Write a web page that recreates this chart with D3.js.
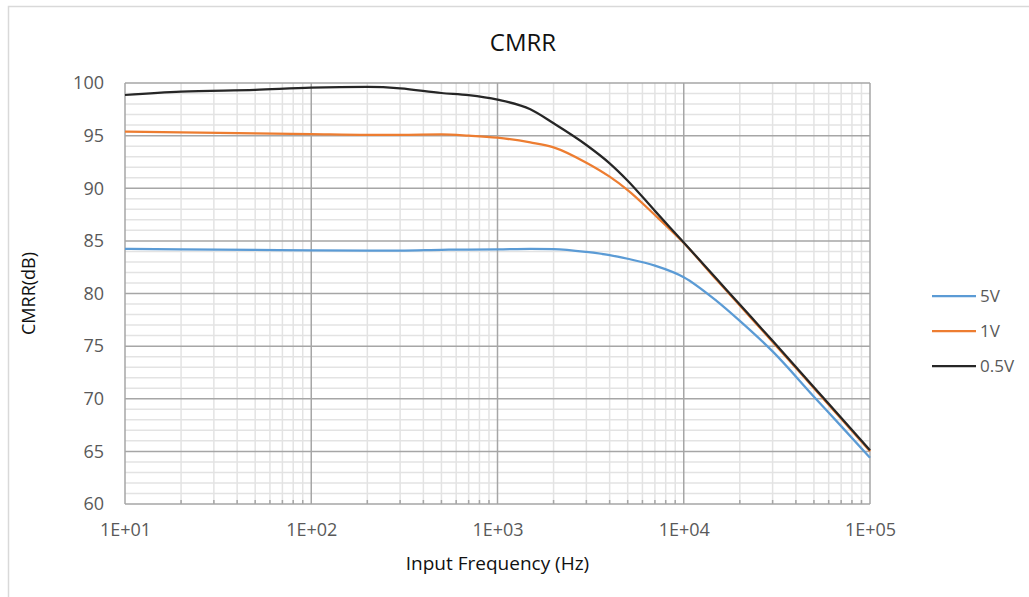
<!DOCTYPE html>
<html lang="en">
<head>
  <meta charset="UTF-8">
  <title>CMRR</title>
  <style>
    body {
      margin: 0;
      background: #fff;
      font-family: "Open Sans", "Noto Sans", Arial, sans-serif;
    }
    svg {
      display: block;
    }
  </style>
  <script src="https://d3js.org/d3.v7.min.js"></script>
</head>
<body>

<svg width="1029" height="597"></svg>

<script>
  // frequency points (Hz) shared by all three curves
  const freqs = [10, 20, 50, 100, 200, 300, 500, 700, 1000, 1500, 2000, 3000, 4000,
                 5000, 7000, 10000, 15000, 20000, 30000, 50000, 70000, 100000];

  // CMRR (dB)
  const cmrr5V = [84.25, 84.2, 84.15, 84.1, 84.08, 84.08, 84.15, 84.18, 84.2, 84.25, 84.22, 83.95, 83.65,
                  83.3, 82.65, 81.55, 79.3, 77.4, 74.5, 70.2, 67.4, 64.4];
  const cmrr1V = [95.38, 95.3, 95.22, 95.15, 95.08, 95.08, 95.12, 95.0, 94.8, 94.35, 93.89, 92.43, 91.1,
                  89.83, 87.46, 84.8, 81.3, 78.85, 75.4, 71.0, 68.1, 65.0];
  const cmrr05V = [98.86, 99.17, 99.35, 99.55, 99.62, 99.5, 99.05, 98.85, 98.42, 97.5, 96.17, 94.11, 92.37,
                   90.72, 87.85, 84.85, 81.4, 78.95, 75.5, 71.1, 68.2, 65.1];

  const seriesNames = ["5V", "1V", "0.5V"];
  const seriesValues = [cmrr5V, cmrr1V, cmrr05V];
  const seriesColors = ["#5b9bd5", "#ed7d31", "#262626"];

  const yTicks = [60, 65, 70, 75, 80, 85, 90, 95, 100];
  const xTicks = [1e1, 1e2, 1e3, 1e4, 1e5];
  const xTickLabels = ["1E+01", "1E+02", "1E+03", "1E+04", "1E+05"];

  const svg = d3.select("svg"),
        width = +svg.attr("width"),
        height = +svg.attr("height");

  const plot = {left: 125, top: 83, right: 870, bottom: 504};

  // chart frame (light border, runs past the right/bottom edges)
  svg.append("rect")
    .attr("x", 8.5).attr("y", 6.5)
    .attr("width", width + 10).attr("height", height + 10)
    .attr("fill", "#fff")
    .attr("stroke", "#d9d9d9")
    .attr("stroke-width", 1.5);

  const x = d3.scaleLog()
    .domain([10, 100000])
    .range([plot.left, plot.right]);

  const y = d3.scaleLinear()
    .domain([60, 100])
    .range([plot.bottom, plot.top]);

  // minor grid
  const minorX = [];
  for (let dec = 10; dec < 100000; dec *= 10) {
    for (let k = 2; k <= 9; k++) minorX.push(dec * k);
  }
  const minorY = d3.range(60, 101, 1).filter(v => v % 5 !== 0);

  const grid = svg.append("g");

  grid.selectAll(".minor-x")
    .data(minorX)
    .enter().append("line")
      .attr("x1", d => x(d)).attr("x2", d => x(d))
      .attr("y1", plot.top).attr("y2", plot.bottom)
      .attr("stroke", "#e3e3e3")
      .attr("stroke-width", 1.5);

  grid.selectAll(".minor-y")
    .data(minorY)
    .enter().append("line")
      .attr("x1", plot.left).attr("x2", plot.right)
      .attr("y1", d => y(d)).attr("y2", d => y(d))
      .attr("stroke", "#e3e3e3")
      .attr("stroke-width", 1.5);

  // major grid
  grid.selectAll(".major-x")
    .data(xTicks)
    .enter().append("line")
      .attr("x1", d => x(d)).attr("x2", d => x(d))
      .attr("y1", plot.top).attr("y2", plot.bottom)
      .attr("stroke", "#a6a6a6")
      .attr("stroke-width", 1.5);

  grid.selectAll(".major-y")
    .data(yTicks)
    .enter().append("line")
      .attr("x1", plot.left).attr("x2", plot.right)
      .attr("y1", d => y(d)).attr("y2", d => y(d))
      .attr("stroke", "#a6a6a6")
      .attr("stroke-width", 1.5);

  // minor tick marks on the x axis (inside)
  grid.selectAll(".minor-tick")
    .data(minorX)
    .enter().append("line")
      .attr("x1", d => x(d)).attr("x2", d => x(d))
      .attr("y1", plot.bottom - 4).attr("y2", plot.bottom)
      .attr("stroke", "#a6a6a6")
      .attr("stroke-width", 1.5);

  // axes: labels only, lines come from the grid
  const xAxis = d3.axisBottom(x)
    .tickValues(xTicks)
    .tickFormat((d, i) => xTickLabels[i])
    .tickSize(0)
    .tickPadding(19);

  const yAxis = d3.axisLeft(y)
    .tickValues(yTicks)
    .tickSize(0)
    .tickPadding(21);

  svg.append("g")
    .attr("transform", `translate(0,${plot.bottom})`)
    .call(xAxis)
    .call(g => g.select(".domain").remove())
    .selectAll("text")
      .attr("fill", "#595959")
      .style("font-size", "18px")
      .style("font-family", "'Open Sans', sans-serif");

  svg.append("g")
    .attr("transform", `translate(${plot.left},0)`)
    .call(yAxis)
    .call(g => g.select(".domain").remove())
    .selectAll("text")
      .attr("fill", "#595959")
      .style("font-size", "18px")
      .style("font-family", "'Open Sans', sans-serif");

  // curves
  const line = d3.line()
    .x(d => x(d[0]))
    .y(d => y(d[1]))
    .curve(d3.curveMonotoneX);

  seriesValues.forEach((vals, i) => {
    svg.append("path")
      .datum(freqs.map((f, j) => [f, vals[j]]))
      .attr("fill", "none")
      .attr("stroke", seriesColors[i])
      .attr("stroke-width", 2.25)
      .attr("stroke-linejoin", "round")
      .attr("d", line);
  });

  // title
  svg.append("text")
    .attr("x", 523).attr("y", 51)
    .attr("text-anchor", "middle")
    .style("font-size", "24px")
    .attr("fill", "#111")
    .text("CMRR");

  // axis titles
  svg.append("text")
    .attr("x", (plot.left + plot.right) / 2).attr("y", 570)
    .attr("text-anchor", "middle")
    .style("font-size", "19px")
    .attr("fill", "#111")
    .text("Input Frequency (Hz)");

  svg.append("text")
    .attr("transform", `translate(35,${(plot.top + plot.bottom) / 2}) rotate(-90)`)
    .attr("text-anchor", "middle")
    .style("font-size", "18px")
    .attr("fill", "#111")
    .text("CMRR(dB)");

  // legend
  const legend = svg.append("g")
    .attr("transform", "translate(932,296)");

  const legendItem = legend.selectAll("g")
    .data(seriesNames)
    .enter().append("g")
      .attr("transform", (d, i) => `translate(0,${i * 35})`);

  legendItem.append("line")
    .attr("x1", 0).attr("x2", 44)
    .attr("stroke", (d, i) => seriesColors[i])
    .attr("stroke-width", 2.25);

  legendItem.append("text")
    .attr("x", 48).attr("dy", "0.35em")
    .style("font-size", "17px")
    .attr("fill", "#595959")
    .text(d => d);
</script>

</body>
</html>
